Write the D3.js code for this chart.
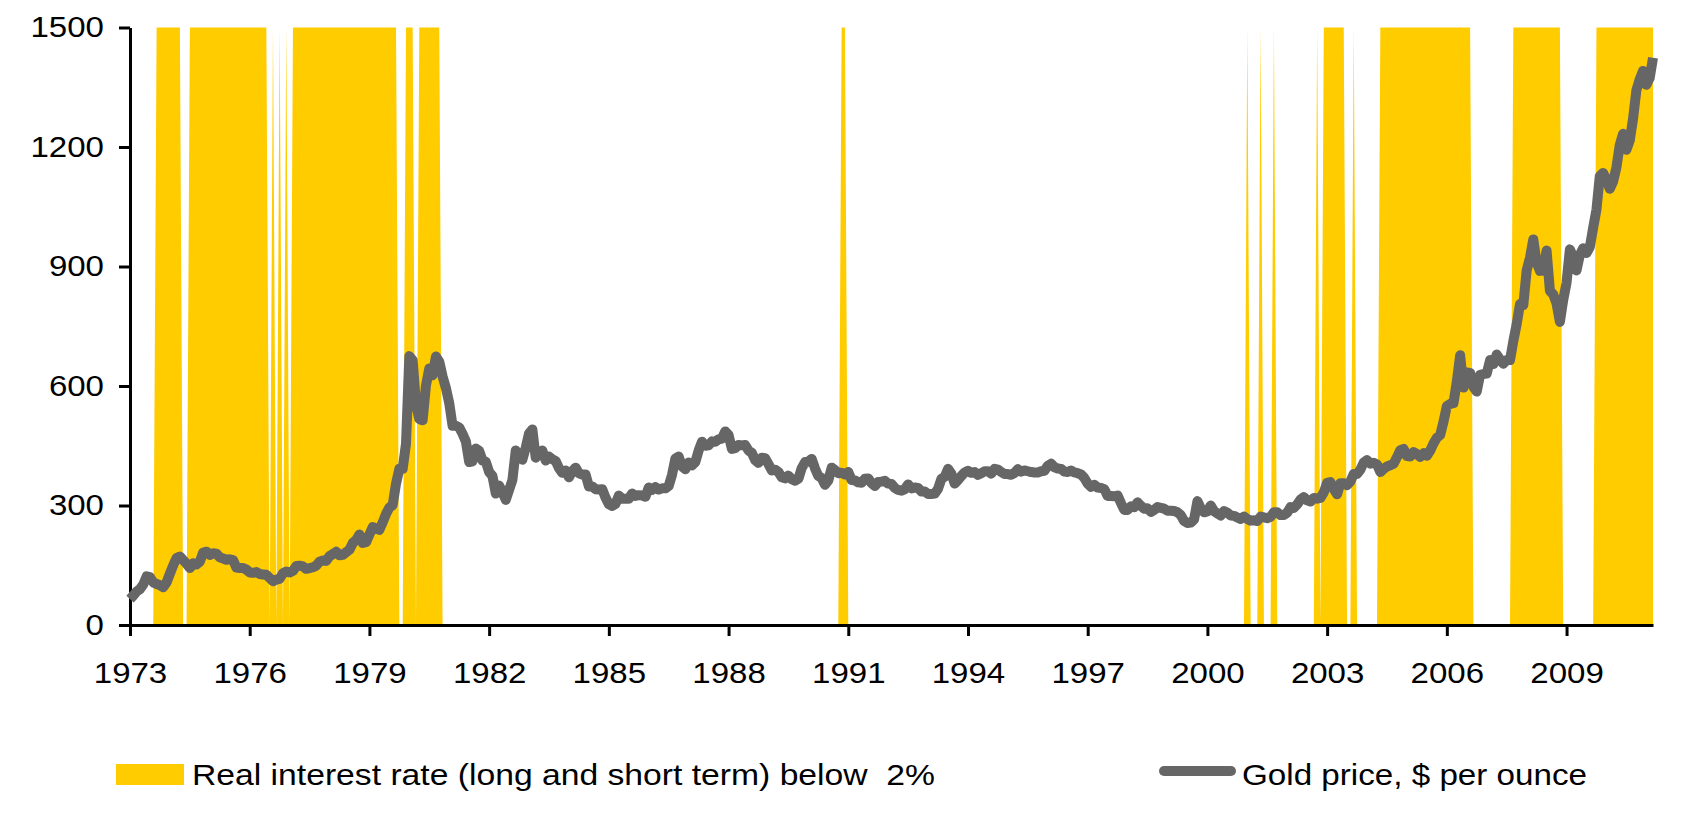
<!DOCTYPE html>
<html>
<head>
<meta charset="utf-8">
<script src="https://cdn.jsdelivr.net/npm/d3@7"></script>
<style>
  body { margin: 0; background: #fff; }
  svg { display: block; font-family: Arial, "Liberation Sans", sans-serif; }
</style>
</head>
<body>
<svg id="chart" width="1696" height="817"></svg>
<script>
// monthly gold price, $ per ounce, Jan 1973 .. Mar 2011 (one row per year)
var startYear = 1973;
var goldPrice = [
  65, 74, 84, 90, 102, 122, 120, 107, 103, 100, 95, 107,
  129, 150, 168, 172, 163, 154, 143, 155, 152, 159, 182, 184,
  176, 180, 179, 170, 167, 164, 165, 163, 144, 143, 143, 139,
  132, 131, 133, 128, 127, 126, 118, 110, 114, 116, 130, 134,
  132, 136, 148, 149, 147, 141, 143, 145, 149, 159, 162, 161,
  173, 178, 184, 175, 176, 183, 189, 206, 213, 227, 206, 208,
  227, 246, 242, 239, 258, 279, 295, 301, 355, 392, 392, 455,
  675, 665, 554, 517, 514, 601, 644, 627, 674, 661, 624, 595,
  557, 500, 500, 496, 480, 461, 409, 411, 443, 437, 413, 410,
  384, 374, 330, 350, 334, 314, 339, 364, 438, 423, 415, 445,
  481, 491, 420, 433, 438, 413, 423, 416, 412, 394, 382, 388,
  371, 386, 395, 381, 378, 378, 348, 348, 341, 340, 341, 320,
  303, 299, 304, 325, 317, 317, 317, 330, 324, 326, 325, 322,
  345, 339, 346, 340, 343, 343, 349, 377, 418, 423, 398, 391,
  408, 401, 409, 438, 460, 450, 451, 461, 460, 466, 468, 486,
  477, 442, 444, 452, 451, 452, 438, 432, 414, 407, 420, 419,
  404, 388, 390, 384, 371, 368, 375, 366, 362, 367, 394, 409,
  410, 417, 393, 374, 369, 352, 363, 395, 389, 381, 382, 378,
  384, 364, 363, 358, 357, 367, 368, 356, 349, 359, 360, 362,
  355, 354, 344, 339, 337, 341, 353, 343, 345, 344, 335, 335,
  329, 329, 330, 342, 367, 372, 392, 380, 355, 364, 374, 383,
  387, 382, 384, 377, 381, 386, 386, 380, 392, 390, 384, 379,
  379, 377, 382, 391, 385, 388, 386, 384, 383, 383, 386, 387,
  400, 405, 396, 393, 392, 385, 384, 388, 383, 381, 378, 369,
  355, 347, 352, 345, 344, 341, 324, 324, 323, 325, 306, 289,
  289, 298, 296, 308, 299, 292, 293, 284, 289, 296, 294, 292,
  287, 287, 286, 283, 276, 261, 256, 257, 265, 311, 293, 283,
  285, 300, 286, 280, 275, 286, 282, 275, 274, 270, 266, 272,
  266, 262, 263, 261, 272, 270, 268, 272, 283, 283, 276, 276,
  282, 296, 294, 303, 315, 321, 313, 310, 319, 317, 319, 333,
  357, 359, 341, 328, 356, 356, 351, 360, 379, 379, 390, 408,
  414, 405, 407, 403, 384, 392, 398, 401, 405, 421, 439, 442,
  424, 423, 434, 429, 422, 431, 425, 438, 456, 470, 477, 510,
  550, 555, 557, 611, 677, 596, 634, 633, 598, 586, 628, 630,
  631, 665, 655, 679, 667, 656, 665, 665, 713, 755, 806, 803,
  890, 922, 968, 910, 889, 890, 940, 839, 830, 807, 761, 816,
  859, 943, 924, 890, 929, 946, 934, 949, 997, 1043, 1127, 1135,
  1118, 1095, 1113, 1149, 1205, 1233, 1193, 1216, 1271, 1342, 1370, 1391,
  1356, 1373, 1424
];

// months where the real interest rate (long and short term) was below 2%
var lowRatePeriods = [
  ["1973-09", "1974-04"], ["1974-07", "1976-06"],
  ["1976-08", "1976-08"], ["1976-10", "1976-10"], ["1976-12", "1976-12"],
  ["1977-02", "1979-09"], ["1979-12", "1980-02"], ["1980-04", "1980-10"],
  ["1990-11", "1990-12"],
  ["2001-01", "2001-01"], ["2001-05", "2001-05"], ["2001-09", "2001-09"],
  ["2002-10", "2002-10"], ["2002-12", "2003-06"], ["2003-09", "2003-09"],
  ["2004-05", "2006-08"], ["2007-09", "2008-11"], ["2009-10", "2011-03"]
];

var yTicks = [0, 300, 600, 900, 1200, 1500];
var xTickYears = [1973, 1976, 1979, 1982, 1985, 1988, 1991, 1994, 1997, 2000, 2003, 2006, 2009];

var legendLabels = ["Real interest rate (long and short term) below  2%", "Gold price, $ per ounce"];

var yellow = "#ffcc00", grey = "#666666";
var stretch = 1.12; // text in the picture is a little wider than plain Arial

var svg = d3.select("#chart");

function monthIndex(s) {
  var p = s.split("-");
  return (+p[0] - startYear) * 12 + (+p[1] - 1);
}

var shading = goldPrice.map(function(d, i) {
  var on = lowRatePeriods.some(function(p) { return i >= monthIndex(p[0]) && i <= monthIndex(p[1]); });
  return on ? 1500 : 0;
});

var x = d3.scaleLinear().domain([0, goldPrice.length - 1]).range([130, 1653]);
var y = d3.scaleLinear().domain([0, 1500]).range([625, 27.5]);

svg.append("path")
    .datum(shading)
    .attr("fill", yellow)
    .attr("d", d3.area()
      .x(function(d, i) { return x(i); })
      .y0(y(0))
      .y1(function(d) { return y(d); }));

var yAxis = svg.append("g")
    .attr("transform", "translate(130,0)")
    .call(d3.axisLeft(y).tickValues(yTicks).tickFormat(d3.format("d"))
      .tickSize(11).tickSizeOuter(0));

var xAxis = svg.append("g")
    .attr("transform", "translate(0,625)")
    .call(d3.axisBottom(x)
      .tickValues(xTickYears.map(function(yr) { return (yr - startYear) * 12; }))
      .tickFormat(function(i) { return startYear + i / 12; })
      .tickSize(11).tickSizeOuter(0));

[yAxis, xAxis].forEach(function(g) {
  g.select(".domain").attr("stroke", "#000").attr("stroke-width", 3);
  g.selectAll(".tick line").attr("stroke", "#000").attr("stroke-width", 3);
  g.selectAll(".tick text")
    .attr("fill", "#000")
    .style("font-size", "29.5px")
    .style("font-family", "Arial, 'Liberation Sans', sans-serif");
});

yAxis.selectAll(".tick text")
    .attr("x", null)
    .attr("transform", "translate(-26,0) scale(" + stretch + ",1)");

xAxis.selectAll(".tick text")
    .attr("y", null)
    .attr("dy", null)
    .attr("transform", "translate(0,58) scale(" + stretch + ",1)");

svg.append("path")
    .datum(goldPrice)
    .attr("fill", "none")
    .attr("stroke", grey)
    .attr("stroke-width", 10)
    .attr("stroke-linejoin", "round")
    .attr("d", d3.line()
      .x(function(d, i) { return x(i); })
      .y(function(d) { return y(d); }));

// legend
var legend = svg.append("g").style("font-size", "29.5px");

legend.append("rect")
    .attr("x", 116).attr("y", 764)
    .attr("width", 68).attr("height", 21)
    .attr("fill", yellow);

legend.append("text")
    .attr("x", 192).attr("y", 785)
    .attr("textLength", 743)
    .attr("lengthAdjust", "spacingAndGlyphs")
    .style("white-space", "pre")
    .text(legendLabels[0]);

legend.append("line")
    .attr("x1", 1164).attr("x2", 1231)
    .attr("y1", 771).attr("y2", 771)
    .attr("stroke", grey)
    .attr("stroke-width", 10)
    .attr("stroke-linecap", "round");

legend.append("text")
    .attr("x", 1242).attr("y", 785)
    .attr("textLength", 345)
    .attr("lengthAdjust", "spacingAndGlyphs")
    .text(legendLabels[1]);
</script>
</body>
</html>
